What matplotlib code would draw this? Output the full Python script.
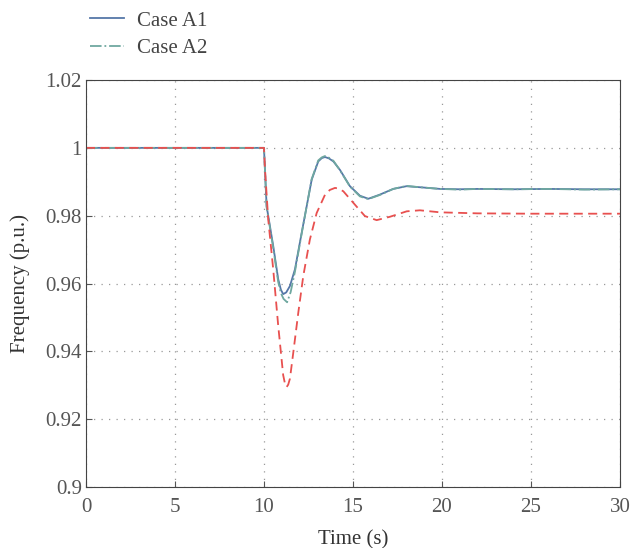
import matplotlib
matplotlib.use("Agg")
import matplotlib.pyplot as plt

# time (s) and frequency (p.u.)
t_a1 = [0, 10.0, 10.15, 10.52, 10.8, 10.95, 11.08, 11.25, 11.46, 11.74, 12.12, 12.4, 12.68, 13.05,
        13.25, 13.43, 13.65, 13.9, 14.27, 14.83, 15.39, 15.86, 16.5, 17.26, 18.0, 18.76, 19.9,
        21, 22, 24, 26, 28, 30]
f_a1 = [1.0, 1.0, 0.9828, 0.9711, 0.9613, 0.9582, 0.9569, 0.9574, 0.9593, 0.9642, 0.975, 0.9828, 0.9906, 0.996,
        0.9970, 0.9973, 0.9969, 0.996, 0.9935, 0.9887, 0.9859, 0.985, 0.9862, 0.9879, 0.9887, 0.9884, 0.9879,
        0.9878, 0.9879, 0.9878, 0.9879, 0.9878, 0.9878]

t_a2 = [0, 10.0, 10.15, 10.52, 10.8, 10.95, 11.1, 11.3, 11.5, 11.74, 12.12, 12.4, 12.68, 13.05,
        13.25, 13.43, 13.65, 13.9, 14.27, 14.83, 15.39, 15.86, 16.5, 17.26, 18.0, 18.76, 19.9,
        21, 22, 24, 26, 28, 30]
f_a2 = [1.0, 1.0, 0.9825, 0.9705, 0.9605, 0.9572, 0.9555, 0.9545, 0.9575, 0.9635, 0.9748, 0.9828, 0.9908, 0.9963,
        0.9972, 0.9976, 0.9971, 0.9962, 0.9934, 0.9886, 0.9857, 0.9849, 0.9861, 0.9879, 0.9888, 0.9884, 0.9879,
        0.9877, 0.9879, 0.9878, 0.9879, 0.9877, 0.9878]

t_b = [0, 10.0, 10.06, 10.24, 10.52, 10.8, 11.08, 11.18, 11.27, 11.36, 11.46, 11.65, 11.93, 12.21, 12.58,
       12.96, 13.43, 13.7, 13.99, 14.2, 14.46, 15.02, 15.67, 16.33, 17.08, 18.02, 18.76, 19.9,
       22, 25, 28, 30]
f_b = [1.0, 1.0, 0.9935, 0.9789, 0.9642, 0.9476, 0.933, 0.9305, 0.9295, 0.9302, 0.932, 0.9398, 0.9515, 0.9623, 0.973,
       0.9808, 0.9862, 0.9876, 0.9882, 0.9880, 0.9872, 0.9838, 0.9799, 0.9787, 0.9797, 0.9813, 0.9816, 0.981,
       0.9807, 0.9806, 0.9806, 0.9806]

plt.rcParams['font.family'] = 'Liberation Serif'

fig = plt.figure(figsize=(6.32, 5.48), dpi=100)
ax = fig.add_axes([0.136, 0.111, 0.845, 0.743])

l1, = ax.plot(t_a1, f_a1, color='#5577a8', linewidth=1.3, label='Case A1')
l2, = ax.plot(t_a2, f_a2, color='#6fa8a0', linestyle='-.', linewidth=1.3, label='Case A2')
ax.plot(t_b, f_b, color='#e8504f', linestyle=(0, (5, 3)), linewidth=1.3)

ax.set_xlim(0, 30)
ax.set_ylim(0.9, 1.02)
ax.set_xticks([0, 5, 10, 15, 20, 25, 30])
ax.set_yticks([0.9, 0.92, 0.94, 0.96, 0.98, 1.0, 1.02])
ax.set_yticklabels(['0.9', '0.92', '0.94', '0.96', '0.98', '1', '1.02'])
ax.tick_params(direction='in', labelsize=15, colors='#555555', length=4)
ax.tick_params(axis='y', pad=3)
ax.tick_params(axis='x', pad=8)
for s in ax.spines.values():
    s.set_color('#444444')
ax.grid(True, linestyle=(0, (1, 5)), color='#999999', linewidth=0.9)

ax.set_xlabel('Time (s)', fontsize=15, color='#333333', labelpad=9)
ax.set_ylabel('Frequency (p.u.)', fontsize=15, color='#333333', labelpad=11)

fig.legend(handles=[l1, l2], loc='upper left', bbox_to_anchor=(0.13, 0.995),
           frameon=False, fontsize=15, handlelength=1.6, handletextpad=0.65,
           labelspacing=0.38, borderaxespad=0, labelcolor='#444444')

fig.savefig('out.png', dpi=100)
